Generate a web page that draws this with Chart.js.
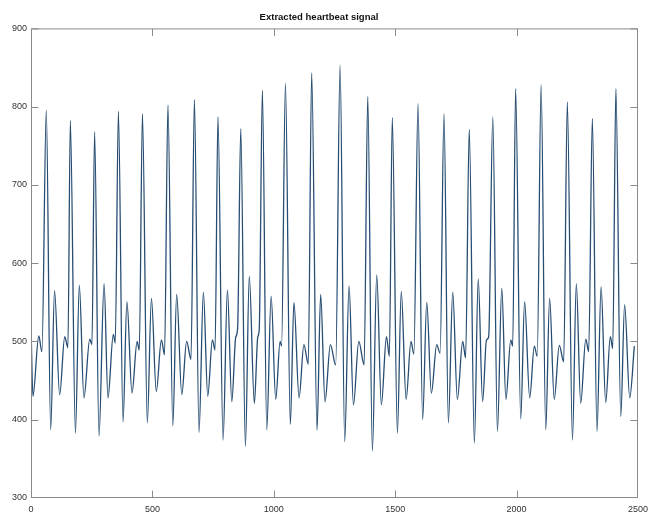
<!DOCTYPE html>
<html>
<head>
<meta charset="utf-8">
<title>Extracted heartbeat signal</title>
<script src="https://cdn.jsdelivr.net/npm/chart.js@4/dist/chart.umd.min.js"></script>
<style>
  html, body { margin: 0; padding: 0; background: #fff; }
  canvas { display: block; }
</style>
</head>
<body>
<canvas id="chart" width="654" height="517"></canvas>
<script>
// =====================
// Data (sample index / amplitude at turning points)
// =====================
const sampleIdx = [
  0, 8, 32, 45, 63, 81, 97, 118, 139, 152,
  162, 183, 199, 218, 242, 251, 262, 280, 301, 317,
  339, 347, 360, 379, 395, 416, 437, 446, 459, 479,
  496, 516, 537, 550, 564, 584, 600, 621, 641, 659,
  673, 692, 710, 728, 747, 758, 770, 791, 809, 827,
  843, 851, 864, 883, 899, 920, 934, 940, 953, 971,
  989, 1008, 1026, 1032, 1048, 1068, 1083, 1104, 1124, 1142,
  1156, 1178, 1193, 1211, 1233, 1255, 1273, 1292, 1310, 1328,
  1350, 1372, 1387, 1406, 1424, 1443, 1464, 1476, 1488, 1509,
  1525, 1545, 1565, 1577, 1594, 1613, 1630, 1649, 1671, 1685,
  1701, 1719, 1737, 1756, 1778, 1790, 1805, 1826, 1842, 1860,
  1876, 1885, 1902, 1921, 1939, 1956, 1976, 1984, 1996, 2017,
  2033, 2054, 2073, 2085, 2101, 2120, 2136, 2155, 2176, 2194,
  2209, 2230, 2246, 2264, 2285, 2297, 2312, 2331, 2348, 2367,
  2386, 2396, 2409, 2429, 2445, 2466, 2485
];
const amplitude = [
  520, 430, 507, 487, 796, 387, 565, 432, 506, 492,
  782, 383, 572, 428, 503, 496, 768, 379, 574, 428,
  509, 498, 794, 397, 551, 434, 500, 489, 791, 396,
  555, 436, 502, 483, 802, 392, 560, 432, 500, 477,
  809, 384, 563, 430, 502, 489, 787, 374, 566, 423,
  505, 517, 772, 366, 583, 421, 506, 515, 821, 387,
  558, 426, 500, 494, 830, 394, 550, 428, 496, 471,
  843, 387, 560, 423, 496, 470, 853, 372, 571, 419,
  500, 470, 813, 360, 585, 419, 506, 481, 786, 383,
  564, 426, 500, 484, 804, 400, 550, 434, 496, 485,
  791, 396, 563, 426, 500, 479, 771, 370, 580, 423,
  502, 506, 787, 385, 568, 426, 502, 494, 823, 401,
  551, 428, 494, 481, 828, 387, 555, 426, 495, 474,
  806, 374, 574, 421, 503, 487, 785, 385, 570, 422,
  506, 491, 823, 404, 547, 428, 494
];
const xTicks = [0, 500, 1000, 1500, 2000, 2500];
const yTicks = [300, 400, 500, 600, 700, 800, 900];
const chartTitle = "Extracted heartbeat signal";

const points = sampleIdx.map((x, i) => ({ x: x, y: amplitude[i] }));

// =====================
// Frame + inward ticks (MATLAB style box)
// =====================
const boxFrame = {
  id: "boxFrame",
  afterDatasetsDraw(chart) {
    const { ctx, chartArea: a, scales } = chart;
    const tl = 7;
    const l = a.left + 0.5, r = a.right - 0.5, t = a.top + 0.5, b = a.bottom - 0.5;
    ctx.save();
    ctx.strokeStyle = "#8a8a8a";
    ctx.lineWidth = 1;
    ctx.strokeRect(l, t, r - l, b - t);
    ctx.beginPath();
    xTicks.forEach(v => {
      const px = Math.min(Math.max(Math.round(scales.x.getPixelForValue(v)) + 0.5, l), r);
      ctx.moveTo(px, b); ctx.lineTo(px, b - tl);
      ctx.moveTo(px, t); ctx.lineTo(px, t + tl);
    });
    yTicks.forEach(v => {
      const py = Math.min(Math.max(Math.round(scales.y.getPixelForValue(v)) + 0.5, t), b);
      ctx.moveTo(l, py); ctx.lineTo(l + tl, py);
      ctx.moveTo(r, py); ctx.lineTo(r - tl, py);
    });
    ctx.stroke();
    ctx.restore();
  }
};

const fontFamily = "'Liberation Sans', Arial, sans-serif";
const tickFont = { family: fontFamily, size: 9 };

new Chart(document.getElementById("chart").getContext("2d"), {
  type: "line",
  data: {
    datasets: [{
      data: points,
      borderColor: "#274d72",
      borderWidth: 1.3,
      pointRadius: 0,
      cubicInterpolationMode: "monotone",
      fill: false
    }]
  },
  options: {
    responsive: false,
    animation: false,
    layout: { padding: { left: 0, right: 16, top: 0, bottom: 0 } },
    plugins: {
      legend: { display: false },
      tooltip: { enabled: false },
      title: {
        display: true,
        text: chartTitle,
        color: "#111",
        font: { family: fontFamily, size: 9.5, weight: "bold" },
        padding: { top: 12, bottom: 5 }
      }
    },
    scales: {
      x: {
        type: "linear",
        min: 0,
        max: 2500,
        afterBuildTicks: s => { s.ticks = xTicks.map(v => ({ value: v })); },
        afterFit: s => { s.height = 19; },
        grid: { display: false, drawTicks: false },
        border: { display: false },
        ticks: { color: "#333", font: tickFont, padding: 6, maxRotation: 0, callback: v => String(v) }
      },
      y: {
        type: "linear",
        min: 300,
        max: 900,
        afterBuildTicks: s => { s.ticks = yTicks.map(v => ({ value: v })); },
        afterFit: s => { s.width = 31; },
        grid: { display: false, drawTicks: false },
        border: { display: false },
        ticks: { color: "#333", font: tickFont, padding: 4, callback: v => String(v) }
      }
    }
  },
  plugins: [boxFrame]
});
</script>
</body>
</html>
